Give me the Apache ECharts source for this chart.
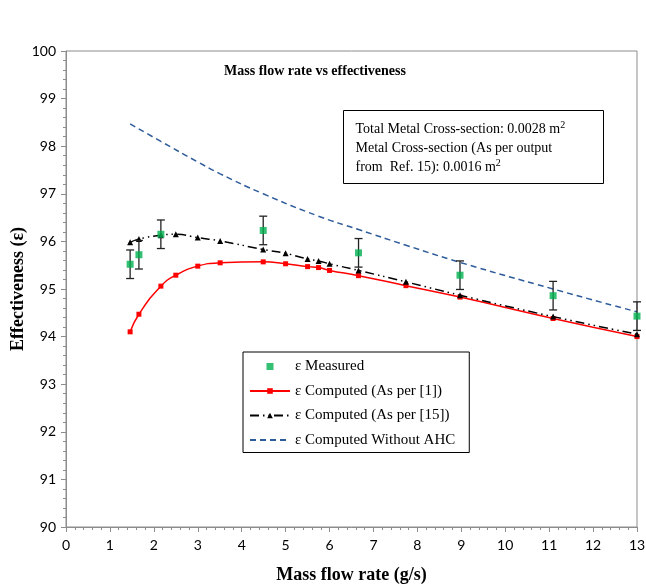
<!DOCTYPE html>
<html>
<head>
<meta charset="utf-8">
<script src="https://cdn.jsdelivr.net/npm/echarts@6/dist/echarts.min.js"></script>
<style>
  html, body { margin: 0; padding: 0; background: #fff; }
  #chart { width: 646px; height: 586px; }
</style>
</head>
<body>
<div id="chart"></div>
<script>
// measured points with error bars
let measuredX = [1.46, 1.66, 2.16, 4.49, 6.66, 8.97, 11.09, 13.0]
let measuredY = [95.52, 95.72, 96.15, 96.23, 95.76, 95.29, 94.86, 94.43]
let measuredErr = [0.3, 0.3, 0.3, 0.3, 0.3, 0.3, 0.3, 0.3]

// computed curves
let computedX = [1.46, 1.66, 2.16, 2.5, 3.0, 3.51, 4.49, 5.0, 5.5, 5.75, 6.0, 6.66, 7.74, 8.97, 11.09, 13.0]
let computedRef1 = [94.10, 94.47, 95.06, 95.29, 95.48, 95.55, 95.57, 95.53, 95.47, 95.45, 95.39, 95.28, 95.07, 94.83, 94.38, 94.00]
let computedRef15 = [95.98, 96.05, 96.13, 96.15, 96.08, 96.01, 95.83, 95.75, 95.63, 95.59, 95.53, 95.39, 95.15, 94.87, 94.42, 94.05]

let noAhcX = [1.46, 2.16, 3.0, 3.51, 4.49, 5.75, 6.66, 7.74, 8.97, 11.09, 13.0]
let noAhcY = [98.47, 98.10, 97.67, 97.42, 97.00, 96.53, 96.25, 95.92, 95.56, 95.00, 94.52]

let xTicks = [0, 13, 1]
let yTicks = [90, 100, 1]

let seriesNames = ['ε Measured', 'ε Computed (As per [1])', 'ε Computed (As per [15])', 'ε Computed Without AHC']

let zip = (xs, ys) => xs.map((x, i) => [x, ys[i]])

let myChart = echarts.init(document.getElementById('chart'))

let serif = 'Liberation Serif'
let tickFont = 'Lato'

let opt = {
  backgroundColor: '#fff',
  animation: false,
  title: {
    text: 'Mass flow rate vs effectiveness',
    left: 310,
    top: 59,
    textAlign: 'center',
    textStyle: { fontFamily: serif, fontWeight: 'bold', fontSize: 14, color: '#000' }
  },
  grid: {
    left: 66, right: 9, top: 51, bottom: 59,
    outerBoundsMode: 'none',
    containLabel: false,
    show: true, borderColor: '#8c8c8c', borderWidth: 1
  },
  legend: {
    orient: 'vertical',
    left: 243, top: 352,
    padding: [6, 14, 4, 6],
    itemGap: 7.5,
    itemWidth: 40,
    itemHeight: 7,
    borderColor: '#000',
    borderWidth: 1,
    backgroundColor: '#fff',
    textStyle: { fontFamily: serif, fontSize: 15, color: '#000', lineHeight: 17 },
    data: [
      { name: seriesNames[0], icon: 'path://M0,0h10v10h-10z', itemStyle: { color: '#00B050' } },
      seriesNames[1],
      seriesNames[2],
      { name: seriesNames[3], itemStyle: { opacity: 0 } }
    ]
  },
  xAxis: {
    type: 'value',
    min: xTicks[0], max: xTicks[1], interval: xTicks[2],
    name: 'Mass flow rate (g/s)',
    nameLocation: 'middle',
    nameGap: 39,
    nameMoveOverlap: false,
    nameTextStyle: { fontFamily: serif, fontWeight: 'bold', fontSize: 18, color: '#000' },
    axisLine: { lineStyle: { color: '#8c8c8c' } },
    axisTick: { inside: false, length: 5, lineStyle: { color: '#8c8c8c' } },
    minorTick: { show: true, splitNumber: 5, length: 3, lineStyle: { color: '#8c8c8c' } },
    splitLine: { show: false },
    axisLabel: { fontFamily: tickFont, fontSize: 14, color: '#000', margin: 11 }
  },
  yAxis: {
    type: 'value',
    min: yTicks[0], max: yTicks[1], interval: yTicks[2],
    name: 'Effectiveness (ε)',
    nameLocation: 'middle',
    nameGap: 39,
    nameMoveOverlap: false,
    nameTextStyle: { fontFamily: serif, fontWeight: 'bold', fontSize: 18, color: '#000' },
    axisLine: { lineStyle: { color: '#8c8c8c' } },
    axisTick: { inside: false, length: 5, lineStyle: { color: '#8c8c8c' } },
    minorTick: { show: true, splitNumber: 5, length: 3, lineStyle: { color: '#8c8c8c' } },
    splitLine: { show: false },
    axisLabel: { fontFamily: tickFont, fontSize: 14, color: '#000', margin: 10 }
  },
  graphic: [{
    type: 'group',
    left: 343, top: 110,
    children: [
      { type: 'rect', shape: { x: 0, y: 0, width: 260, height: 73 }, style: { fill: '#fff', stroke: '#000', lineWidth: 1 } },
      {
        type: 'text', x: 12, y: 9,
        style: {
          text: '{a|Total Metal Cross-section: 0.0028 m}{s|2}\n{a|Metal Cross-section (As per output}\n{a|from  Ref. 15): 0.0016 m}{s|2}',
          rich: {
            a: { fontFamily: serif, fontSize: 14, color: '#000', lineHeight: 19 },
            s: { fontFamily: serif, fontSize: 10, color: '#000', lineHeight: 19, padding: [0, 0, 7, 0] }
          }
        }
      }
    ]
  }],
  series: [
    {
      name: seriesNames[3],
      type: 'line',
      smooth: true,
      showSymbol: false,
      symbol: 'none',
      lineStyle: { color: '#2E5C9A', width: 1.5, type: [6, 4] },
      itemStyle: { color: '#2E5C9A' },
      data: zip(noAhcX, noAhcY),
      z: 2
    },
    {
      name: seriesNames[1],
      type: 'line',
      smooth: true,
      symbol: 'rect',
      symbolSize: 5,
      lineStyle: { color: '#FF0000', width: 1.5 },
      itemStyle: { color: '#FF0000' },
      data: zip(computedX, computedRef1),
      z: 3
    },
    {
      name: seriesNames[2],
      type: 'line',
      smooth: true,
      symbol: 'triangle',
      symbolSize: 6,
      lineStyle: { color: '#000', width: 1.5, type: [9, 4, 1.5, 4, 1.5, 4] },
      itemStyle: { color: '#000' },
      data: zip(computedX, computedRef15),
      z: 4
    },
    {
      name: 'err',
      type: 'custom',
      data: measuredX.map((x, i) => [x, measuredY[i] - measuredErr[i], measuredY[i] + measuredErr[i]]),
      renderItem: function (params, api) {
        let lo = api.coord([api.value(0), api.value(1)])
        let hi = api.coord([api.value(0), api.value(2)])
        let cap = 4
        let st = { stroke: '#222', lineWidth: 1.3 }
        return {
          type: 'group',
          children: [
            { type: 'line', shape: { x1: lo[0], y1: lo[1], x2: hi[0], y2: hi[1] }, style: st },
            { type: 'line', shape: { x1: lo[0] - cap, y1: lo[1], x2: lo[0] + cap, y2: lo[1] }, style: st },
            { type: 'line', shape: { x1: hi[0] - cap, y1: hi[1], x2: hi[0] + cap, y2: hi[1] }, style: st }
          ]
        }
      },
      z: 5
    },
    {
      name: seriesNames[0],
      type: 'scatter',
      symbol: 'rect',
      symbolSize: 7,
      itemStyle: { color: '#00B050' },
      data: zip(measuredX, measuredY),
      z: 6
    }
  ]
}

myChart.setOption(opt)
</script>
</body>
</html>
